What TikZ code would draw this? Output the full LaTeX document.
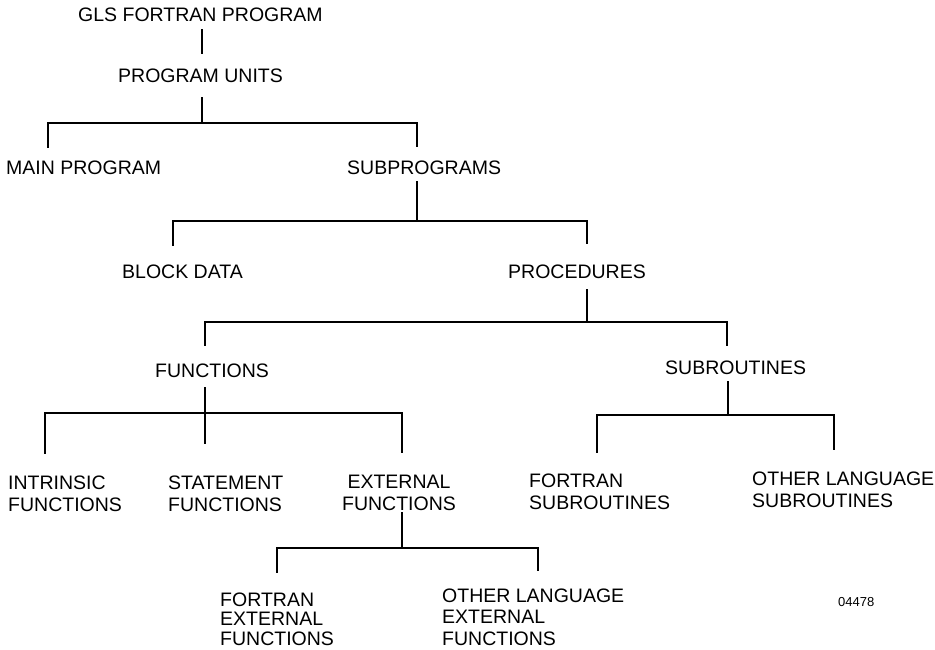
\documentclass[tikz,border=0pt]{standalone}
\usepackage{fontspec}
\setmainfont{Liberation Sans}
\begin{document}
\begin{tikzpicture}[x=1pt,y=-1pt,
  lab/.style={inner sep=0pt,anchor=base west,align=left,font=\fontsize{19.5}{21.5}\selectfont},
  labc/.style={inner sep=0pt,anchor=base,align=center,font=\fontsize{19.5}{21.5}\selectfont},
  tiny/.style={inner sep=0pt,anchor=base west,font=\fontsize{13}{15}\selectfont},
  ln/.style={line width=1.3pt,line cap=rect}]
\useasboundingbox (0,0) rectangle (935,650);
% labels (multi-line labels: base = last line)
\node[lab] (gls) at (78,22) {GLS FORTRAN PROGRAM};
\node[lab] (pu) at (118,83) {PROGRAM UNITS};
\node[lab] (main) at (6,175) {MAIN PROGRAM};
\node[lab] (sub) at (347,175) {SUBPROGRAMS};
\node[lab] (block) at (122,278) {BLOCK DATA};
\node[lab] (proc) at (508,278) {PROCEDURES};
\node[lab] (func) at (155,377) {FUNCTIONS};
\node[lab] (subr) at (665,374) {SUBROUTINES};
\node[lab] (intr) at (8,511) {INTRINSIC\\FUNCTIONS};
\node[lab] (stmt) at (168,511) {STATEMENT\\FUNCTIONS};
\node[labc] (ext) at (399,510) {EXTERNAL\\FUNCTIONS};
\node[lab,font=\fontsize{19.5}{19.2}\selectfont] (fext) at (220,645) {FORTRAN\\EXTERNAL\\FUNCTIONS};
\node[lab] (oext) at (442,645) {OTHER LANGUAGE\\EXTERNAL\\FUNCTIONS};
\node[lab] (fsub) at (529,509) {FORTRAN\\SUBROUTINES};
\node[lab] (osub) at (752,507) {OTHER LANGUAGE\\SUBROUTINES};
\node[tiny] (num) at (838,606) {04478};
% junction coordinates
\coordinate (a1) at (202,30);  \coordinate (a2) at (202,53);
\coordinate (b1) at (202,98);  \coordinate (b2) at (202,123);
\coordinate (bl) at (48,123);  \coordinate (br) at (417,123);
\coordinate (blm) at (48,147); \coordinate (brs) at (417,146);
\coordinate (c1) at (417,182); \coordinate (c2) at (417,221);
\coordinate (cl) at (173,221); \coordinate (cr) at (587,221);
\coordinate (clb) at (173,245); \coordinate (crp) at (587,243);
\coordinate (d1) at (587,290); \coordinate (d2) at (587,322);
\coordinate (dl) at (205,322); \coordinate (dr) at (727,322);
\coordinate (dlf) at (205,345); \coordinate (drs) at (727,345);
\coordinate (e1) at (205,388); \coordinate (e2) at (205,443);
\coordinate (el) at (45,413);  \coordinate (er) at (402,413);
\coordinate (eli) at (45,453); \coordinate (ere) at (402,452);
\coordinate (f1) at (402,513); \coordinate (f2) at (402,548);
\coordinate (fl) at (277,548); \coordinate (fr) at (538,548);
\coordinate (flf) at (277,572); \coordinate (fro) at (538,570);
\coordinate (g1) at (728,382); \coordinate (g2) at (728,415);
\coordinate (gl) at (597,415); \coordinate (gr) at (834,415);
\coordinate (glf) at (597,452); \coordinate (gro) at (834,449);
% connectors
\draw[ln] (a1) -- (a2);
\draw[ln] (b1) -- (b2);
\draw[ln] (blm) -- (bl) -- (br) -- (brs);
\draw[ln] (c1) -- (c2);
\draw[ln] (clb) -- (cl) -- (cr) -- (crp);
\draw[ln] (d1) -- (d2);
\draw[ln] (dlf) -- (dl) -- (dr) -- (drs);
\draw[ln] (e1) -- (e2);
\draw[ln] (eli) -- (el) -- (er) -- (ere);
\draw[ln] (f1) -- (f2);
\draw[ln] (flf) -- (fl) -- (fr) -- (fro);
\draw[ln] (g1) -- (g2);
\draw[ln] (glf) -- (gl) -- (gr) -- (gro);
\end{tikzpicture}
\end{document}
